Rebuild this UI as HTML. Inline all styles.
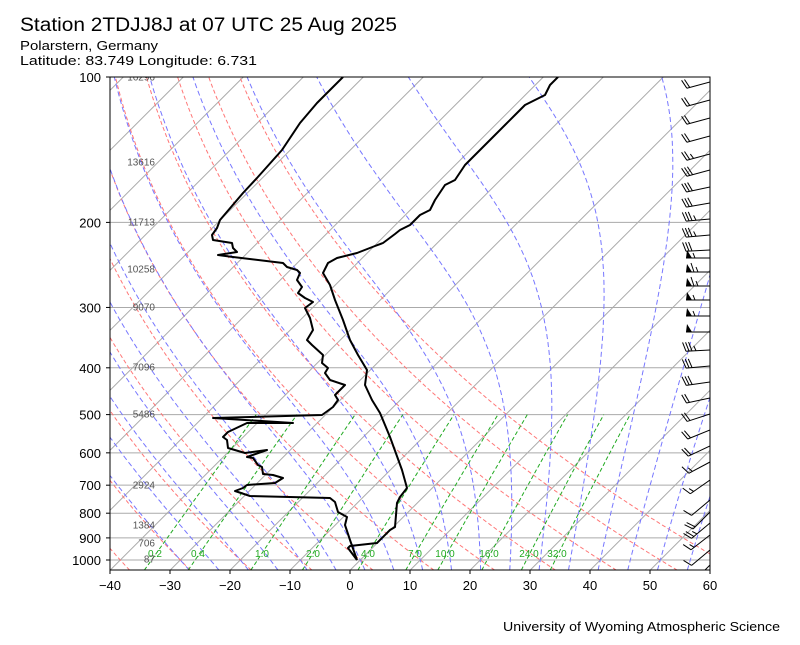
<!DOCTYPE html>
<html><head><meta charset="utf-8"><style>
body{margin:0;background:#fff;width:800px;height:640px;overflow:hidden;font-family:"Liberation Sans",sans-serif}
</style></head><body>
<svg id="s" width="800" height="640" xmlns="http://www.w3.org/2000/svg" font-family="Liberation Sans, sans-serif">
<defs><clipPath id="c"><rect x="110" y="77" width="600" height="493"/></clipPath></defs>
<rect width="800" height="640" fill="#fff"/>
<g id="bg" clip-path="url(#c)"></g>
<g id="fg" clip-path="url(#c)"></g>
<g id="ax"></g>
<text x="20" y="31" font-size="19" textLength="377" lengthAdjust="spacingAndGlyphs">Station 2TDJJ8J at 07 UTC 25 Aug 2025</text>
<text x="20" y="50" font-size="13" textLength="138" lengthAdjust="spacingAndGlyphs">Polarstern, Germany</text>
<text x="20" y="65" font-size="13" textLength="237" lengthAdjust="spacingAndGlyphs">Latitude: 83.749 Longitude: 6.731</text>
<text x="503" y="631" font-size="13" textLength="277" lengthAdjust="spacingAndGlyphs">University of Wyoming Atmospheric Science</text>
</svg>
<script>
var NS="http://www.w3.org/2000/svg";
function el(p,t,a,txt){var e=document.createElementNS(NS,t);for(var k in a)e.setAttribute(k,a[k]);if(txt!==undefined)e.textContent=txt;document.getElementById(p).appendChild(e);return e;}
function Y(p){return 77+483*Math.log10(p/100);}
function X(T,p){var y=Y(p);return 110+(T+40)*6+(570.3-y);}
function pathTP(arr){return arr.map(function(q,i){return (i?'L':'M')+X(q[0],q[1]).toFixed(1)+' '+Y(q[1]).toFixed(1);}).join('');}
var ps=[];for(var p=1050;p>=99;p-=5)ps.push(p);
for(var T=-160;T<=60;T+=10){el('bg','line',{x1:X(T,1050),y1:Y(1050),x2:X(T,100),y2:Y(100),stroke:'#aaa','stroke-width':1});}
[200,300,400,500,600,700,800,900,1000].forEach(function(p){el('bg','line',{x1:110,x2:710,y1:Y(p),y2:Y(p),stroke:'#aaa','stroke-width':1});});
for(var t0=-50;t0<=60;t0+=10){var a=ps.map(function(p){return [(t0+273.15)*Math.pow(p/1000,0.2857)-273.15,p];});
el('bg','path',{d:pathTP(a),fill:'none',stroke:'#f77','stroke-width':1,'stroke-dasharray':'4,2.5'});}
var Rd=287.04749,Cp=1004.666,Lv=2.50084e6,eps=0.622;
function es(Tc){return 6.112*Math.exp(17.67*Tc/(Tc+243.5));}
function dTdp(T,p){var e=es(T-273.15);var rs=eps*e/(p-e);return (Rd*T+Lv*rs)/(Cp+Lv*Lv*rs*eps/(Rd*T*T))/p;}
function integ(T,p0,p1,n){var out=[[T-273.15,p0]];var h=(p1-p0)/n,p=p0;for(var i=0;i<n;i++){var k1=dTdp(T,p),k2=dTdp(T+h/2*k1,p+h/2),k3=dTdp(T+h/2*k2,p+h/2),k4=dTdp(T+h*k3,p+h);T+=h/6*(k1+2*k2+2*k3+k4);p+=h;out.push([T-273.15,p]);}return out;}
for(var t0=-30;t0<=60;t0+=5){var up=integ(t0+273.15,1000,100,180);var dn=integ(t0+273.15,1000,1050,10);var a=dn.reverse().concat(up.slice(1));
el('bg','path',{d:pathTP(a),fill:'none',stroke:'#77f','stroke-width':1,'stroke-dasharray':'5,3'});}
[0.2,0.4,1,2,4,7,10,16,24,32].forEach(function(w){w/=1000;var a=[];for(var p=1050;p>=500;p-=10){var e=w*p/(eps+w);var l=Math.log(e/6.112);a.push([243.5*l/(17.67-l),p]);}
el('bg','path',{d:pathTP(a),fill:'none',stroke:'#2a2','stroke-width':1,'stroke-dasharray':'4,2.5'});});
[['0.2',155],['0.4',198],['1.0',262],['2.0',313],['4.0',368],['7.0',415],['10.0',445],['16.0',489],['24.0',529],['32.0',557]].forEach(function(l){el('bg','text',{x:l[1],y:557,'font-size':10,fill:'#2a2','text-anchor':'middle'},l[0]);});
[['16296',77],['13616',162],['11713',222],['10258',269],['9070',307],['7096',367],['5486',414],['2924',485],['1384',525],['706',543],['87',559]].forEach(function(h){el('bg','text',{x:155,y:h[1]+3.5,'font-size':10,fill:'#555','text-anchor':'end'},h[0]);});
var temp=[[357,560],[348,548],[350,546],[377,543],[390,530],[395,527],[397,503],[400,497],[407,488],[402,470],[390,437],[380,413],[372,400],[365,385],[367,370],[358,355],[350,340],[343,320],[335,300],[330,285],[323,273],[328,263],[337,258],[357,253],[375,246],[383,243],[395,234],[400,230],[410,225],[420,215],[430,210],[435,200],[445,185],[455,180],[465,165],[475,155],[485,145],[495,135],[505,125],[515,115],[525,105],[535,100],[545,95],[550,85],[558,77]];
var dew=[[357,560],[350,540],[345,525],[347,517],[338,512],[335,502],[330,498],[250,496],[235,491],[243,488],[247,485],[275,483],[283,478],[273,475],[263,474],[262,467],[258,465],[253,458],[247,457],[267,450],[245,453],[228,448],[227,440],[223,437],[228,432],[247,423],[293,423],[213,418],[322,415],[333,407],[338,400],[335,395],[340,390],[345,385],[330,380],[325,373],[328,368],[322,363],[323,355],[312,345],[307,340],[313,330],[310,318],[305,308],[313,302],[305,298],[298,293],[302,287],[297,280],[300,273],[297,270],[287,267],[283,263],[233,257],[218,255],[237,252],[233,248],[232,243],[213,240],[212,235],[217,228],[220,220],[243,193],[257,178],[282,150],[300,123],[317,103],[333,87],[343,77]];
function pl(a){return a.map(function(q,i){return (i?'L':'M')+q[0]+' '+q[1];}).join('');}
el('fg','path',{d:pl(temp),fill:'none',stroke:'#000','stroke-width':2,'stroke-linejoin':'round'});
el('fg','path',{d:pl(dew),fill:'none',stroke:'#000','stroke-width':2,'stroke-linejoin':'round'});
var B=[[82,15,2,0],[100,15,2,0],[118,15,2,0],[136,15,2,0],[154,15,2,1],[170,15,3,0],[187,12,3,0],[203,10,3,0],[219,5,3,1],[235,5,3,1],[250,3,3,0],[258,0,0,1,1],[272,0,1,1,1],[286,0,1,1,1],[300,0,0,1,1],[316,0,0,1,1],[332,0,0,0,1],[350,3,3,1],[366,5,3,0],[382,8,3,0],[398,12,2,0],[414,18,2,0],[430,22,2,0],[446,25,2,0],[462,28,1,1],[480,35,1,1],[500,40,1,0],[512,45,2,0],[523,40,2,1],[535,38,1,1],[550,40,1,0],[565,45,1,0]];
B.forEach(function(b){var a=b[1]*Math.PI/180,L=24,ux=-Math.cos(a),uy=Math.sin(a);var Ex=710,Ey=b[0];var Tx=Ex+L*ux,Ty=Ey+L*uy;var nx=-Math.sin(a),ny=-Math.cos(a);
el('fg','line',{x1:Ex,y1:Ey,x2:Tx,y2:Ty,stroke:'#000','stroke-width':1});var pos=0;
if(b[4]){el('fg','path',{d:'M'+Tx+' '+Ty+'L'+(Tx+6*(-ux))+' '+(Ty+6*(-uy))+'L'+(Tx+8*nx+1*(-ux))+' '+(Ty+8*ny)+'Z',fill:'#000'});pos=8;}
for(var i=0;i<b[2];i++){var px=Tx-ux*pos,py=Ty-uy*pos;el('fg','line',{x1:px,y1:py,x2:px+9*nx+3*ux,y2:py+9*ny+3*uy,stroke:'#000','stroke-width':1});pos+=3;}
if(b[3]){var px=Tx-ux*(pos+1),py=Ty-uy*(pos+1);el('fg','line',{x1:px,y1:py,x2:px+5*nx+2*ux,y2:py+5*ny+2*uy,stroke:'#000','stroke-width':1});}
});
el('ax','rect',{x:110,y:77,width:600,height:493,fill:'none',stroke:'#000','stroke-width':1});
for(var T=-40;T<=60;T+=10){var x=110+(T+40)*6;el('ax','line',{x1:x,x2:x,y1:570,y2:574,stroke:'#000'});el('ax','text',{x:x,y:590,'font-size':13,'text-anchor':'middle'},T<0?'\u2212'+(-T):''+T);}
[100,200,300,400,500,600,700,800,900,1000].forEach(function(p){var y=Y(p);el('ax','line',{x1:106,x2:110,y1:y,y2:y,stroke:'#000'});el('ax','text',{x:101,y:y+5,'font-size':13,'text-anchor':'end'},''+p);});
</script>
</body></html>
